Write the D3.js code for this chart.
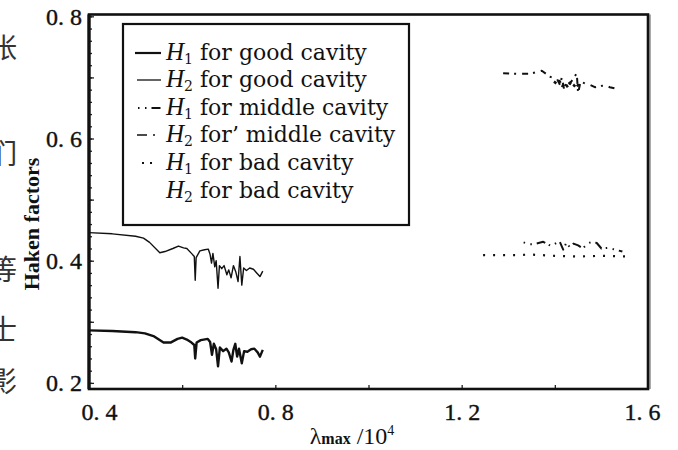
<!DOCTYPE html>
<html><head><meta charset="utf-8">
<script src="https://cdn.jsdelivr.net/npm/d3@7"></script>
<style>body{margin:0;background:#fff}svg{display:block}</style>
</head><body>
<svg id="c" width="678" height="450"></svg>
<script>
// ---- data ----
const xGoodH2 = [0.400,0.450,0.500,0.517,0.530,0.552,0.563,0.580,0.592,0.603,0.610,0.620,0.626,0.628,0.630,0.638,0.648,0.656,0.660,0.663,0.666,0.670,0.673,0.677,0.680,0.685,0.690,0.696,0.700,0.705,0.710,0.715,0.720,0.724,0.728,0.732,0.738,0.745,0.753,0.760,0.767,0.773];
const yGoodH2 = [0.446,0.444,0.440,0.437,0.430,0.413,0.415,0.420,0.424,0.421,0.420,0.412,0.407,0.368,0.405,0.416,0.418,0.419,0.410,0.396,0.412,0.390,0.400,0.355,0.392,0.387,0.392,0.377,0.385,0.372,0.392,0.382,0.366,0.407,0.360,0.388,0.384,0.388,0.386,0.380,0.374,0.383];
const xGoodH1 = [0.400,0.450,0.500,0.520,0.540,0.560,0.575,0.590,0.600,0.610,0.620,0.626,0.628,0.631,0.640,0.655,0.660,0.664,0.668,0.673,0.677,0.681,0.688,0.695,0.700,0.706,0.710,0.714,0.718,0.722,0.728,0.733,0.740,0.748,0.755,0.762,0.767,0.773];
const yGoodH1 = [0.286,0.285,0.283,0.281,0.276,0.266,0.266,0.272,0.274,0.271,0.266,0.262,0.240,0.266,0.270,0.272,0.267,0.246,0.264,0.255,0.227,0.258,0.252,0.256,0.250,0.235,0.254,0.264,0.243,0.256,0.232,0.252,0.251,0.255,0.256,0.250,0.243,0.254];
const xMidH2 = [1.289,1.318,1.347,1.372,1.390,1.405,1.411,1.415,1.420,1.426,1.432,1.440,1.447,1.450,1.455,1.465,1.475,1.486,1.497,1.508,1.518,1.529];
const yMidH2 = [0.707,0.706,0.706,0.711,0.701,0.697,0.688,0.700,0.680,0.695,0.690,0.698,0.707,0.674,0.693,0.690,0.688,0.684,0.686,0.687,0.684,0.682];
const xBadH2 = [1.398,1.404,1.410,1.416,1.422,1.428,1.434,1.440,1.446,1.452];
const yBadH2 = [0.693,0.690,0.694,0.686,0.690,0.684,0.692,0.688,0.683,0.690];
const xMidH1 = [1.333,1.345,1.355,1.375,1.392,1.410,1.418,1.425,1.432,1.440,1.450,1.460,1.470,1.480,1.490,1.500,1.515,1.530,1.545];
const yMidH1 = [0.430,0.427,0.427,0.431,0.424,0.432,0.418,0.430,0.422,0.428,0.425,0.420,0.428,0.431,0.429,0.420,0.421,0.418,0.415];
const xBadH1 = [1.246,1.300,1.350,1.400,1.450,1.500,1.555];
const yBadH1 = [0.409,0.409,0.410,0.408,0.407,0.408,0.407];

const xTickValues = [0.4,0.6,0.8,1.0,1.2,1.4,1.6];
const xTickLabels = [0.4,0.8,1.2,1.6];
const yTickLabels = [0.2,0.4,0.6,0.8];
const legendLabels = [
  ["H","1"," for good cavity"],
  ["H","2"," for good cavity"],
  ["H","1"," for middle cavity"],
  ["H","2"," for\u2019 middle cavity"],
  ["H","1"," for bad cavity"],
  ["H","2"," for bad cavity"]
];
const sideChars = ["张","们","。","等","士","影"];

// ---- layout ----
const svg = d3.select("#c");
const L = 89, R = 648, T = 14.5, B = 389;
const x = d3.scaleLinear().domain([0.4,1.6]).range([L,R]);
const y = d3.scaleLinear().domain([0.19,0.803]).range([B,T]);
const fmt = v => d3.format(".1f")(v).replace(".", ". ");

// side fragments of neighbouring column text (cut off by the page crop)
const sideY = [58, 164, 210, 280, 340, 392];
svg.selectAll("text.side").data(sideChars).join("text")
  .attr("class","side").attr("x",-11).attr("y",(d,i)=>sideY[i])
  .attr("font-family","Noto Sans CJK SC").attr("font-size",28)
  .attr("fill","#333").text(d=>d);

// ticks
const minorY = d3.range(0.20,0.801,0.02);
const medY = d3.range(0.2,0.801,0.1);
const gY1 = svg.append("g").attr("transform",`translate(${L},0)`)
  .call(d3.axisLeft(y).tickValues(minorY).tickSize(-3).tickFormat(""));
const gY2 = svg.append("g").attr("transform",`translate(${L},0)`)
  .call(d3.axisLeft(y).tickValues(medY).tickSize(-5).tickFormat(""));
const gY3 = svg.append("g").attr("transform",`translate(${L},0)`)
  .call(d3.axisLeft(y).tickValues(yTickLabels).tickSize(0).tickPadding(7).tickFormat(fmt));
const gX1 = svg.append("g").attr("transform",`translate(0,${B})`)
  .call(d3.axisBottom(x).tickValues(xTickValues).tickSize(-4).tickFormat(""));
const gX2 = svg.append("g").attr("transform",`translate(0,${B})`)
  .call(d3.axisBottom(x).tickValues(xTickLabels).tickSize(0).tickPadding(14).tickFormat(fmt));
[gY1,gY2,gY3,gX1,gX2].forEach(g=>{
  g.select(".domain").remove();
  g.selectAll("line").attr("stroke","#222").attr("stroke-width",1.3);
  g.selectAll("text").attr("font-family","Liberation Serif").attr("font-size",24).attr("fill","#111")
    .attr("stroke","#111").attr("stroke-width",0.4);
});
gX2.selectAll("text").attr("dy","0.7em").attr("dx",(d)=> d===0.4?10:(d===1.6?-6:0));

// frame
svg.append("line").attr("x1",R+2).attr("x2",R+2).attr("y1",T).attr("y2",B)
  .attr("stroke","#aaa").attr("stroke-width",2);
svg.append("rect").attr("x",L).attr("y",T).attr("width",R-L).attr("height",B-T)
  .attr("fill","none").attr("stroke","#111").attr("stroke-width",2.6);
svg.append("line").attr("x1",L).attr("x2",L).attr("y1",T).attr("y2",B)
  .attr("stroke","#111").attr("stroke-width",3.2);

// axis titles
svg.append("text").attr("transform","translate(39,224) rotate(-90)")
  .attr("text-anchor","middle").attr("font-family","Liberation Serif")
  .attr("font-weight","bold").attr("font-size",22).attr("fill","#111").text("Haken factors");
const xt = svg.append("text").attr("x",352).attr("y",444).attr("text-anchor","middle")
  .attr("font-family","Liberation Serif").attr("font-size",24).attr("fill","#111");
xt.append("tspan").text("λ");
xt.append("tspan").attr("font-size",16).attr("font-weight","bold").text("max");
xt.append("tspan").text(" /10");
xt.append("tspan").attr("font-size",14).attr("dy",-9).text("4");

// series
const line = d3.line().x(d=>x(d[0])).y(d=>y(d[1]));
const series = [
  {xs:xGoodH1, ys:yGoodH1, w:2.4, dash:null},
  {xs:xGoodH2, ys:yGoodH2, w:1.4, dash:null},
  {xs:xMidH1, ys:yMidH1, w:2.0, dash:"1.5,5.5,1.5,5,9,4"},
  {xs:xMidH2, ys:yMidH2, w:2.0, dash:"6,5,2,6"},
  {xs:xBadH1, ys:yBadH1, w:2.2, dash:"2,8"},
  {xs:xBadH2, ys:yBadH2, w:2.6, dash:"3,3"}
];
series.forEach(s=>{
  svg.append("path").datum(s.xs.map((v,i)=>[v,s.ys[i]]))
    .attr("d",line).attr("fill","none").attr("stroke","#111")
    .attr("stroke-width",s.w).attr("stroke-linejoin","round")
    .attr("stroke-dasharray",s.dash);
});

// legend
svg.append("rect").attr("x",123).attr("y",24).attr("width",286).attr("height",201)
  .attr("fill","#fff").attr("stroke","#111").attr("stroke-width",2.2);
const legSym = [
  {x1:135,x2:161,w:2.2,dash:null},
  {x1:137,x2:161,w:1.3,dash:null},
  {x1:138,x2:161,w:2.0,dash:"1.5,5.5,1.5,5,9"},
  {x1:137,x2:156,w:1.6,dash:"10,6,2,10"},
  {x1:142,x2:152,w:2.0,dash:"2,6"},
  {x1:0,x2:0,w:0,dash:null}
];
const legY = [53,80,108,135,163,191];
legendLabels.forEach((lab,i)=>{
  const s = legSym[i];
  if (s.w>0) svg.append("line").attr("x1",s.x1).attr("x2",s.x2)
    .attr("y1",legY[i]).attr("y2",legY[i]).attr("stroke","#111")
    .attr("stroke-width",s.w).attr("stroke-dasharray",s.dash);
  const t = svg.append("text").attr("x",166).attr("y",legY[i]+7)
    .attr("font-family","DejaVu Serif").attr("font-size",22).attr("fill","#111");
  t.append("tspan").attr("font-family","Liberation Serif").attr("font-style","italic").attr("font-size",25).text(lab[0]);
  t.append("tspan").attr("font-size",14).attr("dy",4).text(lab[1]);
  t.append("tspan").attr("dy",-4).text(lab[2]);
});
</script>
</body></html>
